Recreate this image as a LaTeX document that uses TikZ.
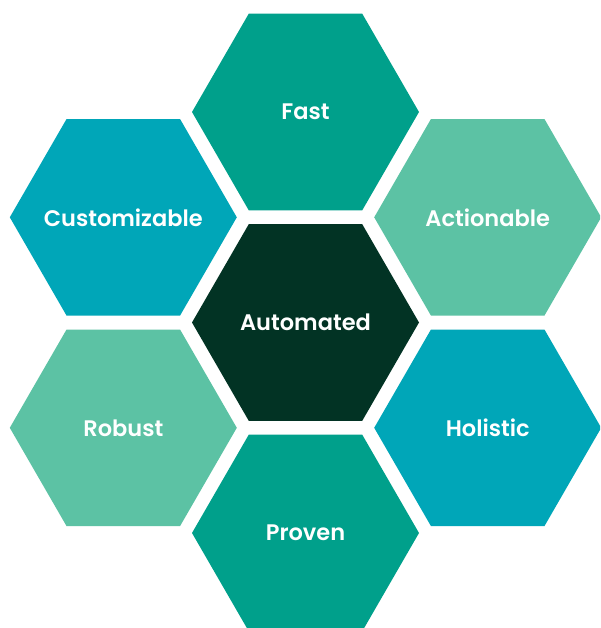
\documentclass[tikz,border=0pt]{standalone}
\usepackage{fontspec}
\setmainfont{Poppins}[BoldFont={Poppins SemiBold}]
\usetikzlibrary{shapes.geometric}
\definecolor{cTeal}{HTML}{00A08B}
\definecolor{cCyan}{HTML}{00A6B8}
\definecolor{cMint}{HTML}{5CC2A4}
\definecolor{cDark}{HTML}{023324}
\newcommand{\hexlabel}[1]{\makebox[0pt]{#1}}
\tikzset{
  hexa/.style={regular polygon, regular polygon sides=6, minimum size=227pt,
    inner sep=0pt, draw=none, fill=#1, text=white,
    font=\fontsize{22.5}{27}\selectfont\bfseries}
}
\begin{document}
\begin{tikzpicture}[x=1pt,y=-1pt]
\useasboundingbox (0,0) rectangle (600,628);
\clip (0,0) rectangle (600,628);
\fill[white] (0,0) rectangle (600,628);
\node[hexa=cDark] (auto) at (305.5,322.5) {\hexlabel{Automated}};
\node[hexa=cTeal] (fast) at (305.5,112) {\hexlabel{Fast}};
\node[hexa=cTeal] (proven) at (305.5,533) {\hexlabel{Proven}};
\node[hexa=cCyan] (custom) at (123.3,217.3) {\hexlabel{Customizable}};
\node[hexa=cMint] (action) at (487.7,217.3) {\hexlabel{Actionable}};
\node[hexa=cMint] (robust) at (123.3,427.8) {\hexlabel{Robust}};
\node[hexa=cCyan] (holistic) at (487.7,427.8) {\hexlabel{Holistic}};
\end{tikzpicture}
\end{document}
